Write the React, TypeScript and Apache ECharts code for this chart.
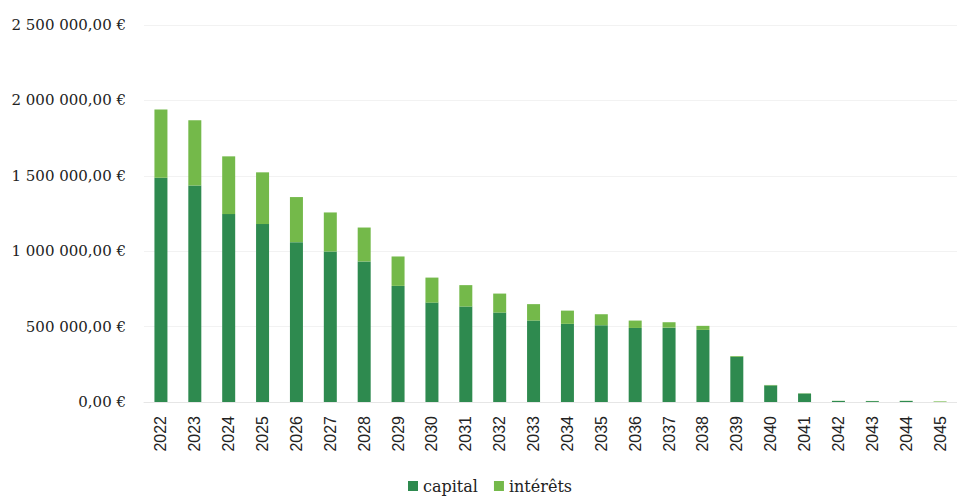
import React, { useEffect, useRef } from "react";
import * as echarts from "echarts";

const years = ["2022","2023","2024","2025","2026","2027","2028","2029","2030","2031","2032","2033","2034","2035","2036","2037","2038","2039","2040","2041","2042","2043","2044","2045"];
const capital = [1487000,1436000,1246000,1180000,1060000,998000,932000,770000,659000,633000,593000,540000,518000,509000,491000,493000,478000,300000,110000,56000,7000,6000,7000,0];
const interets = [453000,432000,383000,343000,299000,259000,225000,195000,166000,142000,126000,109000,88000,73000,49000,36000,27000,5000,3000,2000,1000,1000,1000,4000];
const yTicks = [0, 500000, 1000000, 1500000, 2000000, 2500000];

function fmt(v: number): string {
  const s = Math.round(v).toString().replace(/\B(?=(\d{3})+(?!\d))/g, " ");
  return s + ",00 €";
}

export default function App() {
  const ref = useRef<HTMLDivElement>(null);
  useEffect(() => {
    const chart = echarts.init(ref.current!, null, { renderer: "svg" });
    chart.setOption({
      animation: false,
      backgroundColor: "#ffffff",
      grid: { left: 144, right: -5, top: 25, bottom: 97, containLabel: false },
      legend: {
        top: 476,
        left: 408,
        padding: 0,
        itemWidth: 10,
        itemHeight: 10,
        itemGap: 16,
        icon: "rect",
        textStyle: { fontFamily: "DejaVu Serif", fontSize: 16, color: "#222", lineHeight: 20 },
        data: ["capital", "intérêts"],
      },
      xAxis: {
        type: "category",
        data: years,
        axisLine: { lineStyle: { color: "#e6e6e6" } },
        axisTick: { show: false },
        axisLabel: {
          rotate: 90,
          margin: 14,
          fontFamily: "Liberation Sans",
          fontSize: 16,
          color: "#222",
        },
      },
      yAxis: {
        type: "value",
        min: yTicks[0],
        max: yTicks[yTicks.length - 1],
        interval: 500000,
        axisLine: { show: false },
        axisTick: { show: false },
        splitLine: { lineStyle: { color: "#f2f2f2" } },
        axisLabel: {
          margin: 18,
          fontFamily: "DejaVu Serif",
          fontSize: 15,
          color: "#222",
          formatter: (v: number) => fmt(v),
        },
      },
      series: [
        {
          name: "capital",
          type: "bar",
          stack: "total",
          barWidth: 13,
          data: capital,
          itemStyle: { color: "#2e8a4f" },
        },
        {
          name: "intérêts",
          type: "bar",
          stack: "total",
          barWidth: 13,
          data: interets,
          itemStyle: { color: "#74b94a" },
        },
      ],
    });
    return () => chart.dispose();
  }, []);
  return (
    <div
      ref={ref}
      style={{ position: "fixed", left: 0, top: 0, width: 957, height: 499 }}
    />
  );
}
